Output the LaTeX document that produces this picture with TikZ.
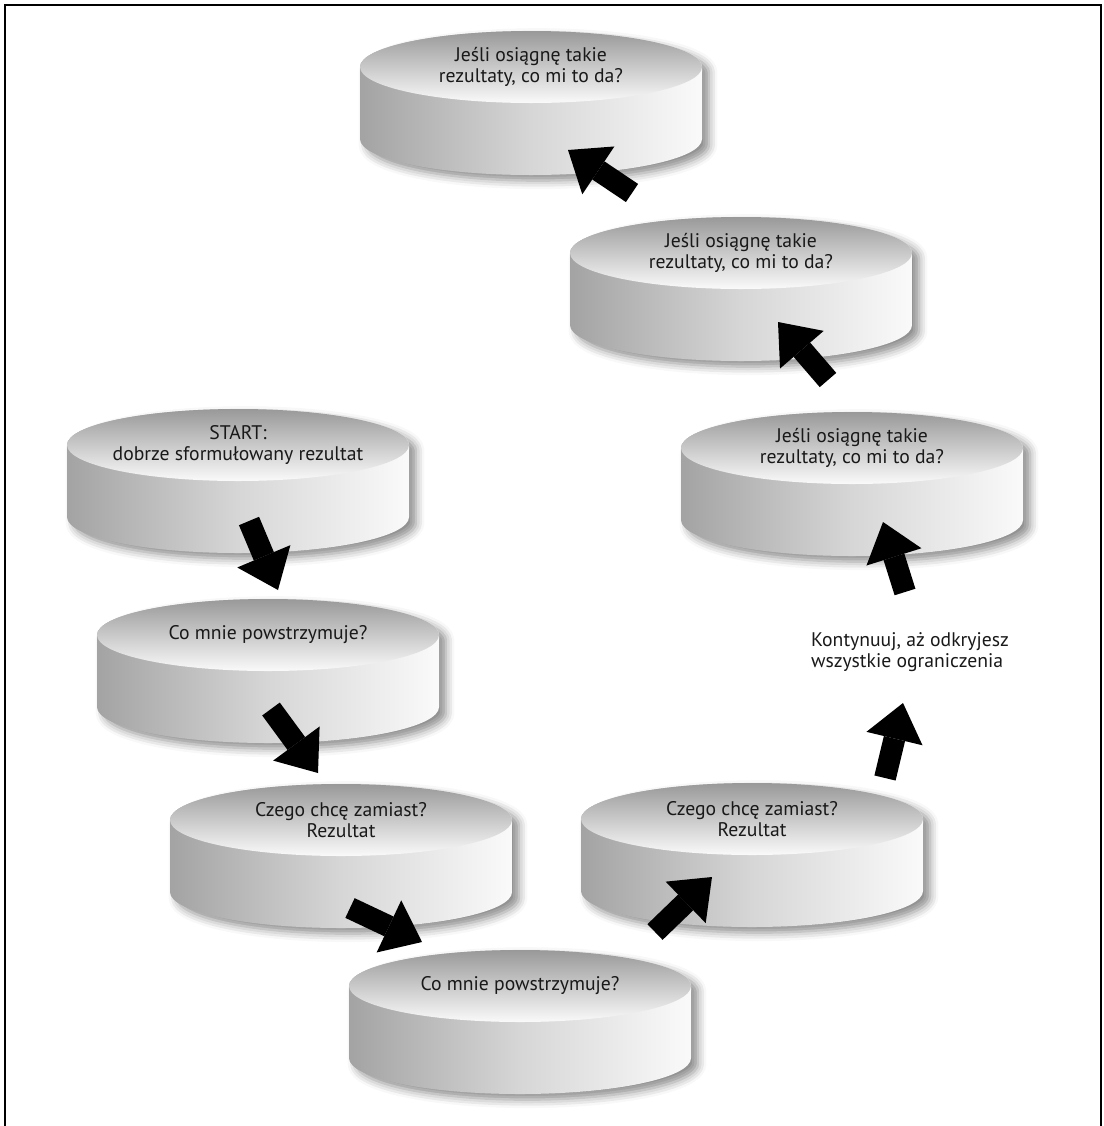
\documentclass[tikz,border=0pt]{standalone}
\usepackage{fontspec}
\setmainfont{PT Sans}
\usetikzlibrary{arrows.meta,shadows.blur}

% disc: name, cx, cy (top ellipse centre, px from top), text
\newcommand{\drawdisc}[4]{%
  \shade[discside] (#2-171,-#3) -- (#2-171,-#3-72)
    arc[start angle=180,end angle=360,x radius=171,y radius=36]
    -- (#2+171,-#3)
    arc[start angle=0,end angle=180,x radius=171,y radius=36] -- cycle;
  \shade[disctop] (#2,-#3) ellipse[x radius=171,y radius=36];
  \node[disctext] (#1) at (#2,-#3) {#4};
}

\begin{document}
\begin{tikzpicture}[x=0.025cm,y=0.025cm]
    %styles
    \tikzstyle{discside}=[left color=black!36, right color=black!2, middle color=black!16, blur shadow={shadow xshift=5pt,shadow yshift=-4pt,shadow blur radius=6pt,shadow opacity=45}]
    \tikzstyle{disctop}=[top color=black!40, bottom color=black!2]
    \tikzstyle{disctext}=[align=center, font=\fontsize{14}{15}\selectfont, text=black!90]
    \tikzstyle{commu}=[-{Triangle[width=41pt,length=26pt,line width=0pt]}, line width=15.5pt, black]
    \useasboundingbox (0,0) rectangle (1104,-1126);
    \draw[line width=1.8pt] (5,-1126) -- (5,-5) -- (1101,-5) -- (1101,-1126);

    %nodes
    \drawdisc{A}{531}{67}{Jeśli osiągnę takie\\rezultaty, co mi to da?}
    \drawdisc{B}{741}{253}{Jeśli osiągnę takie\\rezultaty, co mi to da?}
    \drawdisc{C}{852}{448}{Jeśli osiągnę takie\\rezultaty, co mi to da?}
    \drawdisc{D}{238}{445}{START:\\dobrze sformułowany rezultat}
    \drawdisc{E}{268}{635}{Co mnie powstrzymuje?}
    \drawdisc{F}{341}{820}{Czego chcę zamiast?\\Rezultat}
    \drawdisc{H}{752}{819}{Czego chcę zamiast?\\Rezultat}
    \drawdisc{G}{520}{986}{Co mnie powstrzymuje?}
    \node[disctext, align=left] (cont) at (910,-652) {Kontynuuj, aż odkryjesz\\wszystkie ograniczenia};

    %arrows
    \draw[commu] ([shift={(11,-76)}]D.center) -- ([shift={(10,45)}]E.center);
    \draw[commu] ([shift={(3,-74)}]E.center) -- ([shift={(-23,47)}]F.center);
    \draw[commu] ([shift={(9,-88)}]F.center) -- ([shift={(-98,44)}]G.center);
    \draw[commu] ([shift={(135,54)}]G.center) -- ([shift={(-40,-58)}]H.center);
    \draw[commu] ([shift={(133,41)}]H.center) -- ([shift={(-7,-51)}]cont.center);
    \draw[commu] ([shift={(-5,60)}]cont.center) -- ([shift={(31,-74)}]C.center);
    \draw[commu] ([shift={(-24,68)}]C.center) -- ([shift={(37,-69)}]B.center);
    \draw[commu] ([shift={(-109,60)}]B.center) -- ([shift={(37,-83)}]A.center);

\end{tikzpicture}
\end{document}
